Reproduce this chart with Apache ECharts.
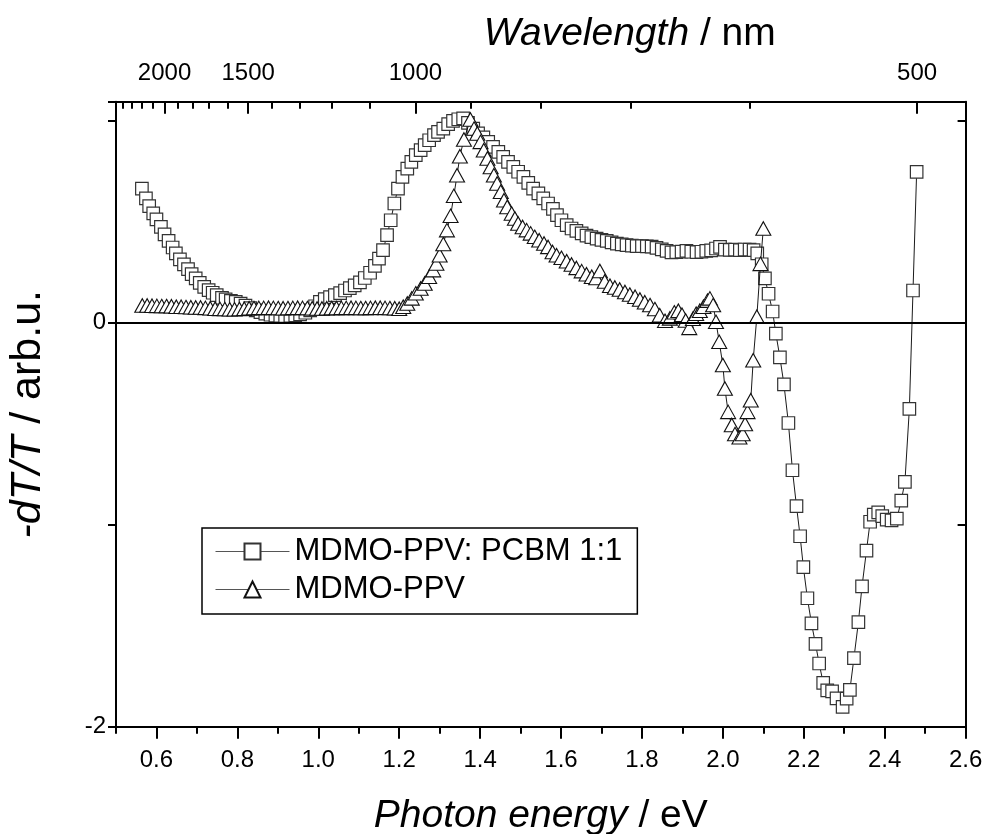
<!DOCTYPE html>
<html>
<head>
<meta charset="utf-8">
<script src="https://cdn.jsdelivr.net/npm/echarts@6/dist/echarts.min.js"></script>
<style>
  html, body { margin: 0; padding: 0; background: #fff; }
  #chart { width: 984px; height: 834px; }
</style>
</head>
<body>
<div id="chart"></div>
<script>
// Photo-induced absorption spectra: MDMO-PPV:PCBM blend vs. pristine MDMO-PPV

// MDMO-PPV: PCBM 1:1 (squares)
const blendEnergy = [
  0.564, 0.574, 0.582, 0.592, 0.600, 0.611, 0.620, 0.630, 0.640, 0.648,
  0.658, 0.668, 0.678, 0.687, 0.697, 0.707, 0.718, 0.729, 0.739, 0.749,
  0.762, 0.771, 0.784, 0.796, 0.808, 0.820, 0.832, 0.845, 0.857, 0.869,
  0.882, 0.894, 0.906, 0.918, 0.931, 0.943, 0.955, 0.968, 0.980, 0.992,
  1.004, 1.016, 1.029, 1.041, 1.054, 1.066, 1.078, 1.090, 1.103, 1.115,
  1.128, 1.140, 1.150, 1.160, 1.170, 1.179, 1.188, 1.197, 1.208, 1.220,
  1.230, 1.241, 1.253, 1.263, 1.274, 1.286, 1.296, 1.309, 1.321, 1.333,
  1.346, 1.358, 1.370, 1.383, 1.395, 1.408, 1.420, 1.432, 1.445, 1.457,
  1.469, 1.482, 1.494, 1.507, 1.519, 1.531, 1.544, 1.556, 1.568, 1.580,
  1.590, 1.601, 1.614, 1.626, 1.638, 1.651, 1.663, 1.675, 1.688, 1.700,
  1.713, 1.725, 1.738, 1.750, 1.762, 1.775, 1.787, 1.800, 1.812, 1.824,
  1.836, 1.849, 1.861, 1.873, 1.885, 1.898, 1.910, 1.922, 1.935, 1.947,
  1.959, 1.971, 1.983, 1.993, 2.005, 2.017, 2.030, 2.042, 2.054, 2.066,
  2.076, 2.085, 2.096, 2.104, 2.113, 2.123, 2.131, 2.141, 2.151, 2.162,
  2.172, 2.182, 2.191, 2.199, 2.209, 2.219, 2.229, 2.238, 2.248, 2.258,
  2.270, 2.281, 2.296, 2.306, 2.314, 2.324, 2.335, 2.344, 2.355, 2.364,
  2.373, 2.384, 2.394, 2.405, 2.417, 2.430, 2.441, 2.450, 2.461, 2.470,
  2.479
];
const blendSignal = [
  0.665, 0.616, 0.578, 0.542, 0.512, 0.475, 0.438, 0.406, 0.373, 0.344,
  0.314, 0.289, 0.266, 0.241, 0.220, 0.198, 0.178, 0.162, 0.149, 0.137,
  0.124, 0.116, 0.109, 0.104, 0.095, 0.085, 0.073, 0.062, 0.053, 0.046,
  0.040, 0.036, 0.034, 0.033, 0.034, 0.037, 0.042, 0.050, 0.062, 0.082,
  0.104, 0.117, 0.127, 0.137, 0.147, 0.160, 0.172, 0.185, 0.200, 0.222,
  0.248, 0.282, 0.318, 0.360, 0.434, 0.508, 0.591, 0.665, 0.723, 0.764,
  0.797, 0.830, 0.855, 0.880, 0.904, 0.929, 0.946, 0.962, 0.984, 1.000,
  1.008, 1.012, 0.990, 0.962, 0.938, 0.918, 0.896, 0.871, 0.847, 0.822,
  0.797, 0.772, 0.748, 0.723, 0.693, 0.665, 0.641, 0.616, 0.591, 0.564,
  0.533, 0.508, 0.484, 0.467, 0.455, 0.443, 0.432, 0.424, 0.417, 0.411,
  0.406, 0.398, 0.392, 0.388, 0.385, 0.382, 0.380, 0.380, 0.379, 0.377,
  0.371, 0.364, 0.356, 0.349, 0.350, 0.353, 0.356, 0.352, 0.350, 0.352,
  0.356, 0.359, 0.368, 0.376, 0.362, 0.361, 0.362, 0.360, 0.363, 0.362,
  0.360, 0.344, 0.290, 0.220, 0.144, 0.056, -0.053, -0.171, -0.305, -0.496,
  -0.730, -0.908, -1.057, -1.210, -1.364, -1.488, -1.590, -1.687, -1.783, -1.820,
  -1.825, -1.860, -1.902, -1.861, -1.818, -1.660, -1.482, -1.305, -1.128, -0.985,
  -0.950, -0.939, -0.957, -0.975, -0.978, -0.970, -0.880, -0.788, -0.426, 0.160,
  0.747
];

// MDMO-PPV (triangles)
const pristineEnergy = [
  0.565, 0.577, 0.589, 0.601, 0.613, 0.625, 0.637, 0.649, 0.661, 0.673,
  0.685, 0.697, 0.709, 0.721, 0.733, 0.745, 0.757, 0.769, 0.781, 0.793,
  0.805, 0.817, 0.829, 0.841, 0.853, 0.865, 0.877, 0.889, 0.901, 0.913,
  0.925, 0.937, 0.949, 0.961, 0.973, 0.985, 0.997, 1.009, 1.021, 1.033,
  1.045, 1.057, 1.069, 1.081, 1.093, 1.105, 1.117, 1.129, 1.141, 1.153,
  1.165, 1.177, 1.189, 1.200, 1.210, 1.220, 1.231, 1.241, 1.253, 1.263,
  1.274, 1.284, 1.292, 1.300, 1.309, 1.318, 1.327, 1.335, 1.343, 1.350,
  1.360, 1.376, 1.385, 1.393, 1.401, 1.409, 1.418, 1.426, 1.434, 1.442,
  1.451, 1.459, 1.467, 1.478, 1.486, 1.494, 1.505, 1.515, 1.525, 1.535,
  1.546, 1.558, 1.568, 1.579, 1.589, 1.601, 1.614, 1.626, 1.638, 1.651,
  1.663, 1.676, 1.687, 1.696, 1.708, 1.721, 1.733, 1.745, 1.758, 1.770,
  1.783, 1.795, 1.807, 1.820, 1.832, 1.844, 1.857, 1.869, 1.880, 1.890,
  1.899, 1.908, 1.917, 1.926, 1.934, 1.943, 1.952, 1.962, 1.968, 1.976,
  1.983, 1.991, 2.000, 2.005, 2.013, 2.022, 2.030, 2.041, 2.049, 2.055,
  2.061, 2.069, 2.075, 2.084, 2.093, 2.100
];
const pristineSignal = [
  0.086, 0.086, 0.085, 0.084, 0.083, 0.083, 0.082, 0.080, 0.080, 0.078,
  0.077, 0.076, 0.076, 0.074, 0.072, 0.070, 0.069, 0.068, 0.067, 0.067,
  0.068, 0.070, 0.072, 0.073, 0.074, 0.074, 0.075, 0.074, 0.073, 0.072,
  0.073, 0.074, 0.075, 0.074, 0.073, 0.072, 0.071, 0.071, 0.072, 0.073,
  0.073, 0.074, 0.074, 0.075, 0.074, 0.073, 0.073, 0.074, 0.075, 0.075,
  0.074, 0.073, 0.072, 0.070, 0.080, 0.096, 0.121, 0.146, 0.170, 0.195,
  0.228, 0.261, 0.294, 0.335, 0.390, 0.459, 0.530, 0.629, 0.731, 0.825,
  0.908, 1.007, 0.962, 0.938, 0.896, 0.855, 0.814, 0.772, 0.731, 0.690,
  0.649, 0.607, 0.574, 0.541, 0.517, 0.492, 0.475, 0.459, 0.443, 0.426,
  0.409, 0.393, 0.376, 0.351, 0.335, 0.322, 0.305, 0.289, 0.272, 0.256,
  0.241, 0.228, 0.222, 0.257, 0.205, 0.184, 0.175, 0.165, 0.153, 0.140,
  0.129, 0.116, 0.102, 0.088, 0.068, 0.038, 0.010, 0.022, 0.052, 0.060,
  0.040, 0.012, -0.025, 0.020, 0.045, 0.060, 0.080, 0.110, 0.121, 0.088,
  0.005, -0.094, -0.209, -0.325, -0.441, -0.506, -0.551, -0.567, -0.551, -0.501,
  -0.441, -0.383, -0.185, 0.030, 0.292, 0.467
];

// Axis ticks and labels
const energyLabels = [0.6, 0.8, 1.0, 1.2, 1.4, 1.6, 1.8, 2.0, 2.2, 2.4, 2.6];
const energyMinor = [0.5, 0.7, 0.9, 1.1, 1.3, 1.5, 1.7, 1.9, 2.1, 2.3, 2.5];
const wavelengthLabels = [2000, 1500, 1000, 500];
const wavelengthMinor = [600, 700, 800, 900, 1100, 1200, 1300, 1400, 1600, 1700, 1800, 1900, 2100, 2200, 2300, 2400];
const signalLabels = [-2, 0];
const HC = 1240; // eV·nm

const FONT = '"Liberation Sans", Arial, Helvetica, sans-serif';
const pairs = (xs, ys) => xs.map((x, i) => [x, ys[i]]);
const toEnergy = (nm) => HC / nm;

const X_MIN = 0.5, X_MAX = 2.6, Y_MIN = -2, Y_MAX = 1.095;
const black = '#000';

function xAxisBase(position, extra) {
  return Object.assign({
    type: 'value', position: position, min: X_MIN, max: X_MAX,
    splitLine: { show: false },
    axisLine: { show: true, onZero: false, lineStyle: { color: black, width: 2 } }
  }, extra);
}

const titleStyle = (size, extra) => Object.assign({
  fontSize: size, color: black, fontFamily: FONT,
  rich: { i: { fontStyle: 'italic', fontSize: size, fontFamily: FONT, color: black } }
}, extra);

const chart = echarts.init(document.getElementById('chart'), null, { renderer: 'canvas' });

chart.setOption({
  animation: false,
  backgroundColor: '#fff',
  textStyle: { fontFamily: FONT },
  grid: { left: 116, right: 18.4, top: 101.7, bottom: 107.3, containLabel: false, outerBoundsMode: 'none' },
  legend: {
    orient: 'vertical',
    left: 202, top: 528,
    padding: [8, 15, 9, 13],
    itemGap: 7,
    itemWidth: 74,
    itemHeight: 20,
    borderColor: black,
    borderWidth: 1.5,
    borderRadius: 0,
    backgroundColor: '#fff',
    selectedMode: false,
    lineStyle: { color: '#555', width: 1 },
    textStyle: { fontSize: 31, color: black, fontFamily: FONT, lineHeight: 31 },
    data: ['MDMO-PPV: PCBM 1:1', 'MDMO-PPV']
  },
  xAxis: [
    xAxisBase('bottom', {
      name: '{i|Photon energy} / eV',
      nameLocation: 'middle', nameGap: 70,
      nameTextStyle: titleStyle(39),
      axisTick: { show: true, inside: false, length: 12, customValues: energyLabels,
        lineStyle: { color: black, width: 2 } },
      axisLabel: { show: true, customValues: energyLabels, margin: 22, fontSize: 24,
        color: black, fontFamily: FONT, formatter: (v) => v.toFixed(1) }
    }),
    xAxisBase('bottom', {
      axisLine: { show: false, onZero: false },
      axisTick: { show: true, inside: false, length: 7, customValues: energyMinor,
        lineStyle: { color: black, width: 2 } },
      axisLabel: { show: false }
    }),
    xAxisBase('top', {
      name: '{i|Wavelength} / nm',
      nameLocation: 'middle', nameGap: 48,
      nameTextStyle: titleStyle(39, { padding: [0, 0, 0, 178] }),
      axisTick: { show: true, inside: true, length: 12,
        customValues: wavelengthLabels.map(toEnergy),
        lineStyle: { color: black, width: 2 } },
      axisLabel: { show: true, customValues: wavelengthLabels.map(toEnergy), margin: 16,
        fontSize: 24, color: black, fontFamily: FONT,
        formatter: (v) => String(Math.round(HC / v)) }
    }),
    xAxisBase('top', {
      axisLine: { show: false, onZero: false },
      axisTick: { show: true, inside: true, length: 7,
        customValues: wavelengthMinor.map(toEnergy),
        lineStyle: { color: black, width: 2 } },
      axisLabel: { show: false }
    })
  ],
  yAxis: [
    {
      type: 'value', position: 'left', min: Y_MIN, max: Y_MAX, interval: 1,
      name: '{i|-dT/T} / arb.u.',
      nameLocation: 'middle', nameGap: 66, nameRotate: 90,
      nameTextStyle: titleStyle(43),
      splitLine: { show: false },
      axisLine: { show: true, onZero: false, lineStyle: { color: black, width: 2 } },
      axisTick: { show: true, inside: false, length: 8, lineStyle: { color: black, width: 2 } },
      axisLabel: { show: true, customValues: signalLabels, margin: 10, fontSize: 24,
        color: black, fontFamily: FONT, formatter: (v) => String(v) }
    },
    {
      type: 'value', position: 'right', min: Y_MIN, max: Y_MAX, interval: 1,
      splitLine: { show: false },
      axisLine: { show: true, onZero: false, lineStyle: { color: black, width: 2 } },
      axisTick: { show: true, inside: true, length: 8, lineStyle: { color: black, width: 2 } },
      axisLabel: { show: false }
    }
  ],
  series: [
    {
      name: 'MDMO-PPV: PCBM 1:1',
      type: 'line',
      xAxisIndex: 0, yAxisIndex: 0,
      data: pairs(blendEnergy, blendSignal),
      symbol: 'rect',
      symbolSize: 12.5,
      showAllSymbol: true,
      lineStyle: { color: black, width: 0.9 },
      itemStyle: { color: '#fff', borderColor: '#333', borderWidth: 1.2 },
      emphasis: { disabled: true },
      z: 2,
      markLine: {
        silent: true,
        symbol: 'none',
        label: { show: false },
        lineStyle: { color: black, width: 2, type: 'solid' },
        data: [{ yAxis: 0 }]
      }
    },
    {
      name: 'MDMO-PPV',
      type: 'line',
      xAxisIndex: 0, yAxisIndex: 0,
      data: pairs(pristineEnergy, pristineSignal),
      symbol: 'triangle',
      symbolSize: [15, 13.5],
      showAllSymbol: true,
      lineStyle: { color: black, width: 0.9 },
      itemStyle: { color: '#fff', borderColor: '#111', borderWidth: 1.1 },
      emphasis: { disabled: true },
      z: 3
    }
  ]
});
</script>
</body>
</html>
